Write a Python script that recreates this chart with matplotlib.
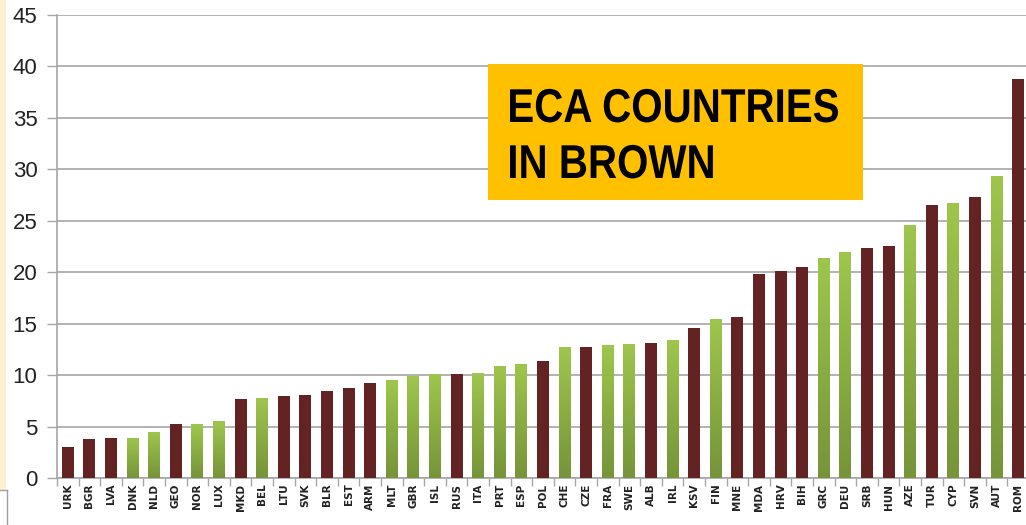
import numpy as np
import matplotlib
matplotlib.use("Agg")
import matplotlib.pyplot as plt
from matplotlib.patches import Rectangle, PathPatch
from matplotlib.colors import LinearSegmentedColormap
from matplotlib.textpath import TextPath
from matplotlib.font_manager import FontProperties
from matplotlib.transforms import Affine2D, IdentityTransform

countries = ["URK", "BGR", "LVA", "DNK", "NLD", "GEO", "NOR", "LUX", "MKD", "BEL",
             "LTU", "SVK", "BLR", "EST", "ARM", "MLT", "GBR", "ISL", "RUS", "ITA",
             "PRT", "ESP", "POL", "CHE", "CZE", "FRA", "SWE", "ALB", "IRL", "KSV",
             "FIN", "MNE", "MDA", "HRV", "BIH", "GRC", "DEU", "SRB", "HUN", "AZE",
             "TUR", "CYP", "SVN", "AUT", "ROM"]
values = [3.0, 3.8, 3.9, 3.9, 4.5, 5.2, 5.2, 5.5, 7.7, 7.8,
          8.0, 8.1, 8.5, 8.7, 9.2, 9.5, 9.9, 10.1, 10.1, 10.2,
          10.9, 11.1, 11.4, 12.7, 12.7, 12.9, 13.0, 13.1, 13.4, 14.6,
          15.5, 15.6, 19.8, 20.1, 20.5, 21.4, 22.0, 22.4, 22.5, 24.6,
          26.5, 26.7, 27.3, 29.4, 38.8]
eca = ["URK", "BGR", "LVA", "GEO", "MKD", "LTU", "SVK", "BLR", "EST", "ARM",
       "RUS", "POL", "CZE", "ALB", "KSV", "MNE", "MDA", "HRV", "BIH", "SRB",
       "HUN", "TUR", "SVN", "ROM"]
note_lines = ["ECA COUNTRIES", "IN BROWN"]

brown = "#632323"
green_cmap = LinearSegmentedColormap.from_list("g", ["#76943a", "#9ec64c"])

fig = plt.figure(figsize=(10.26, 5.25), dpi=100)
ax = fig.add_axes([57 / 1026, 47 / 525, 972 / 1026, 463 / 525])

x = np.arange(len(countries))
grad = np.linspace(0, 1, 100).reshape(-1, 1)
for xi, name, v in zip(x, countries, values):
    if name in eca:
        ax.bar(xi, v, width=0.55, color=brown, zorder=3)
    else:
        b = ax.bar(xi, v, width=0.55, color="none", zorder=3)[0]
        im = ax.imshow(grad, cmap=green_cmap, aspect="auto", origin="lower",
                       extent=[xi - 0.3, xi + 0.3, 0, v], zorder=3)
        im.set_clip_path(b)

ax.set_xlim(-0.5, len(countries) - 0.5)
ax.set_ylim(0, 45)
ax.set_yticks(range(0, 46, 5))
ax.yaxis.grid(True, color="#a6a6a6", linewidth=1.2, zorder=0)
ax.set_axisbelow(True)

ax.set_xticks(x)
ax.set_xticklabels(countries, rotation=90, fontsize=7.5, fontweight="bold",
                   family="DejaVu Sans", color="#222222")
ax.set_xticks(np.arange(-0.5, len(countries), 1), minor=True)
ax.tick_params(axis="x", which="major", length=0, pad=4)
ax.tick_params(axis="x", which="minor", length=6, color="#a6a6a6", width=1)
ax.tick_params(axis="y", length=7, color="#a6a6a6", width=1, labelsize=16,
               labelcolor="#222222", pad=7)
for lab in ax.get_yticklabels():
    lab.set_family("Liberation Sans")

for s in ["top", "right"]:
    ax.spines[s].set_visible(False)
ax.spines["left"].set_color("#a6a6a6")
ax.spines["bottom"].set_color("#a6a6a6")
ax.spines["left"].set_linewidth(1.2)
ax.spines["bottom"].set_linewidth(1.2)

# orange annotation box
fig.patches.append(Rectangle((488 / 1026, 1 - 200 / 525), 375 / 1026, 136 / 525,
                             transform=fig.transFigure, facecolor="#ffc000",
                             edgecolor="none", zorder=5))

# condensed bold text, squeezed horizontally to look like a narrow face
fp = FontProperties(family="Liberation Sans", weight="bold")
first = TextPath((0, 0), note_lines[0], size=1, prop=fp)
ext = first.get_extents()
sx = 328 / ext.width
sy = 34 / 0.716
for line, base in zip(note_lines, [122, 178]):
    tp = TextPath((0, 0), line, size=1, prop=fp)
    e = tp.get_extents()
    tr = Affine2D().translate(-e.x0, 0).scale(sx, sy).translate(510, 525 - base)
    fig.patches.append(PathPatch(tp, transform=tr + IdentityTransform(),
                                 facecolor="black", edgecolor="none", zorder=6))

# left edge strip
fig.patches.append(Rectangle((0, 1 - 490 / 525), 6 / 1026, 490 / 525,
                             transform=fig.transFigure, facecolor="#fdf0d3",
                             edgecolor="none"))
fig.lines.append(plt.Line2D([0, 7 / 1026], [1 - 490 / 525] * 2,
                            transform=fig.transFigure, color="#a0a0a0", lw=1))
fig.lines.append(plt.Line2D([7 / 1026] * 2, [0, 1 - 490 / 525],
                            transform=fig.transFigure, color="#a0a0a0", lw=1))

fig.savefig("out.png", dpi=100)
